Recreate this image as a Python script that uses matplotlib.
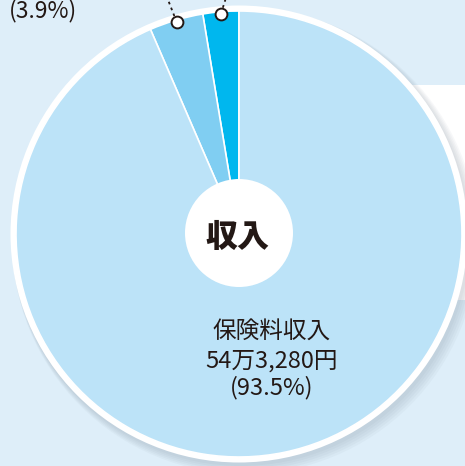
import matplotlib
matplotlib.use("Agg")
import matplotlib.pyplot as plt
from matplotlib.patches import Circle, Rectangle
import numpy as np

plt.rcParams['font.family'] = ['Noto Sans CJK JP', 'DejaVu Sans']

# Data
categories = ["その他", "国庫負担金", "保険料収入"]
shares = [2.6, 3.9, 93.5]
colors = ["#00b7ee", "#80cef2", "#bce3f8"]
main_label = ["保険料収入", "54万3,280円", "(93.5%)"]
side_label = "(3.9%)"
center_label = "収入"

W, H = 465, 466
fig = plt.figure(figsize=(W / 100, H / 100), dpi=100)
fig.patch.set_facecolor("#deeef9")
ax = fig.add_axes([0, 0, 1, 1])
ax.set_xlim(0, W)
ax.set_ylim(0, H)
ax.set_aspect("equal")
ax.axis("off")

cx, cy, R = 239, 232, 223

# white panel on the right
ax.add_patch(Rectangle((405, H - 300), 70, 215, facecolor="white", edgecolor="none", zorder=0))

# soft shadow
for i in range(5):
    ax.add_patch(Circle((cx + 2 + i, cy - 3 - i), R + 6 + i, facecolor="#6f7f8d", alpha=0.05,
                        edgecolor="none", zorder=1))

# white ring
ax.add_patch(Circle((cx, cy), R + 5.5, facecolor="white", edgecolor="none", zorder=2))

wedges, _ = ax.pie(shares, colors=colors, startangle=90, counterclock=True,
                   center=(cx, cy), radius=R, frame=True,
                   wedgeprops=dict(edgecolor="white", linewidth=1.2))
for w in wedges:
    w.set_zorder(3)
ax.set_xlim(0, W)
ax.set_ylim(0, H)
ax.axis("off")

# center circle
ax.add_patch(Circle((cx, cy + 1), 54, facecolor="white", edgecolor="none", zorder=4))
ax.text(cx - 2, cy - 3, center_label, ha="center", va="center", fontsize=23,
        fontweight="heavy", color="#231815", zorder=5)

# markers with dotted leaders
cum = np.cumsum([0] + shares)
leader_dirs = [(5, 16), (-9, 23)]
for k in range(2):
    mid = 90 + (cum[k] + cum[k + 1]) / 2 * 3.6
    r = R - 2
    px, py = cx + r * np.cos(np.radians(mid)), cy + r * np.sin(np.radians(mid))
    dx, dy = leader_dirs[k]
    ax.plot([px, px + dx * 3], [py, py + dy * 3], linestyle=(0, (1.5, 2.0)),
            color="#231815", linewidth=1.3, zorder=5)
    ax.plot(px, py, marker="o", markersize=8.5, markerfacecolor="white",
            markeredgecolor="#231815", markeredgewidth=1.4, zorder=6)

# labels
ax.text(43, H - 11, side_label, ha="center", va="center", fontsize=16.5,
        color="#231815", zorder=5)
ys = [H - 331, H - 361, H - 388]
for t, y in zip(main_label, ys):
    ax.text(272, y, t, ha="center", va="center", fontsize=17, color="#231815", zorder=5)

fig.savefig("out.png", dpi=100, facecolor=fig.get_facecolor())
